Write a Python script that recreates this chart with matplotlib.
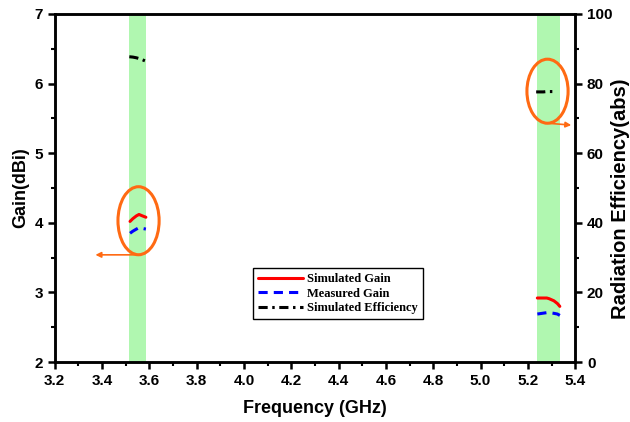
import matplotlib
matplotlib.use("Agg")
import matplotlib.pyplot as plt
from matplotlib.patches import Ellipse
from matplotlib.ticker import MultipleLocator

# ---- data ----
band_ranges = [(3.515, 3.585), (5.24, 5.335)]

sim_gain_f1 = [3.518, 3.53, 3.545, 3.556, 3.57, 3.585]
sim_gain_g1 = [4.02, 4.06, 4.10, 4.12, 4.10, 4.08]
meas_gain_f1 = [3.518, 3.53, 3.545, 3.556, 3.57, 3.585]
meas_gain_g1 = [3.85, 3.88, 3.91, 3.93, 3.92, 3.91]
sim_eff_f1 = [3.515, 3.53, 3.545, 3.56, 3.575, 3.59]
sim_eff_e1 = [87.7, 87.6, 87.4, 87.1, 86.7, 86.3]

sim_gain_f2 = [5.24, 5.26, 5.28, 5.29, 5.31, 5.325, 5.335]
sim_gain_g2 = [2.92, 2.92, 2.92, 2.91, 2.88, 2.84, 2.80]
meas_gain_f2 = [5.24, 5.26, 5.28, 5.29, 5.31, 5.325, 5.335]
meas_gain_g2 = [2.69, 2.70, 2.71, 2.71, 2.70, 2.69, 2.67]
sim_eff_f2 = [5.235, 5.25, 5.265, 5.28, 5.295, 5.307]
sim_eff_e2 = [77.6, 77.6, 77.6, 77.7, 77.7, 77.7]

xticks = [3.2, 3.4, 3.6, 3.8, 4.0, 4.2, 4.4, 4.6, 4.8, 5.0, 5.2, 5.4]
gain_ticks = [2, 3, 4, 5, 6, 7]
eff_ticks = [0, 20, 40, 60, 80, 100]

# ---- style ----
plt.rcParams['font.family'] = ['Liberation Sans', 'DejaVu Sans']
plt.rcParams['font.weight'] = 'bold'

fig = plt.figure(figsize=(6.3, 4.22), dpi=100)
ax = fig.add_axes([0.087, 0.142, 0.826, 0.825])
ax2 = ax.twinx()

green = '#b0f7b0'
orange = '#ff6a13'

for lo, hi in band_ranges:
    ax.axvspan(lo, hi, color=green, lw=0, zorder=0)

l1, = ax.plot(sim_gain_f1, sim_gain_g1, color='#ff0000', lw=2.2, solid_capstyle='round')
ax.plot(sim_gain_f2, sim_gain_g2, color='#ff0000', lw=2.2, solid_capstyle='round')
l2, = ax.plot(meas_gain_f1, meas_gain_g1, color='#0000ff', lw=2.2, linestyle=(0, (3, 2)))
ax.plot(meas_gain_f2, meas_gain_g2, color='#0000ff', lw=2.2, linestyle=(0, (3, 2)))
l3, = ax2.plot(sim_eff_f1, sim_eff_e1, color='black', lw=2.2, linestyle=(0, (3, 1.5, 0.8, 1.5)))
ax2.plot(sim_eff_f2, sim_eff_e2, color='black', lw=2.2, linestyle=(0, (3, 1.5, 0.8, 1.5)))

# annotations (ellipses + arrows)
ax.add_patch(Ellipse((3.554, 4.03), 0.174, 0.977, fill=False, ec=orange, lw=2.2, zorder=5))
ax.annotate('', xy=(3.36, 3.54), xytext=(3.554, 3.54),
            arrowprops=dict(arrowstyle='-|>', color=orange, lw=1.2, mutation_scale=8))
ax.add_patch(Ellipse((5.283, 5.89), 0.174, 0.92, fill=False, ec=orange, lw=2.2, zorder=5))
ax.annotate('', xy=(5.395, 5.40), xytext=(5.285, 5.43),
            arrowprops=dict(arrowstyle='-|>', color=orange, lw=1.2, mutation_scale=8))

ax.set_xlim(3.2, 5.4)
ax.set_ylim(2, 7)
ax2.set_ylim(0, 100)
ax.set_xticks(xticks)
ax.set_xticklabels([f"{v:.1f}" for v in xticks])
ax.set_yticks(gain_ticks)
ax2.set_yticks(eff_ticks)
ax.xaxis.set_minor_locator(MultipleLocator(0.1))
ax.yaxis.set_minor_locator(MultipleLocator(0.5))
ax2.yaxis.set_minor_locator(MultipleLocator(10))

for a in (ax, ax2):
    for s in a.spines.values():
        s.set_linewidth(1.8)
    a.tick_params(which='major', direction='out', length=5, width=1.8, labelsize=11)
    a.tick_params(which='minor', direction='out', length=3, width=1.5)

ax.set_xlabel('Frequency (GHz)', fontsize=13, fontweight='bold', labelpad=9)
ax.set_ylabel('Gain(dBi)', fontsize=13, fontweight='bold', labelpad=4)
ax2.set_ylabel('Radiation Efficiency(abs)', fontsize=14.5, fontweight='bold')
ax2.yaxis.set_label_coords(1.068, 0.47)

leg = ax.legend([l1, l2, l3], ['Simulated Gain', 'Measured Gain', 'Simulated Efficiency'],
                loc='upper left', bbox_to_anchor=(0.381, 0.27), fancybox=False,
                framealpha=1, edgecolor='black', handlelength=3.6, handletextpad=0.3,
                borderpad=0.4, labelspacing=0.2, borderaxespad=0,
                prop={'family': ['Liberation Serif'], 'weight': 'bold', 'size': 9})
leg.get_frame().set_linewidth(1.0)
leg.set_zorder(10)

fig.savefig('out.png', dpi=100)
